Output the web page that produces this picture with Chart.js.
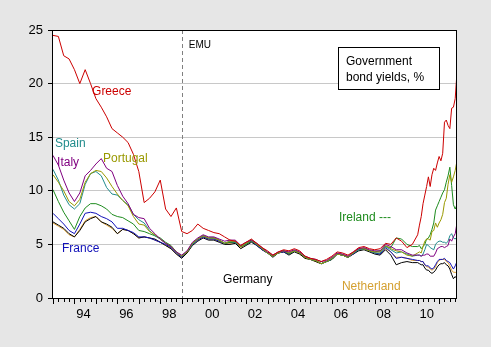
<!DOCTYPE html>
<html>
<head>
<meta charset="utf-8">
<script src="https://cdn.jsdelivr.net/npm/chart.js@4/dist/chart.umd.min.js"></script>
<style>
  html, body { margin: 0; padding: 0; background: #e6e6e6; }
  #wrap { width: 491px; height: 347px; }
</style>
</head>
<body>
<div id="wrap"><canvas id="yieldsChart"></canvas></div>
<script>
// Observation dates: quarterly 1993-2009, monthly 2010 to Nov 2011
const dates = [];
for (let y = 1993; y <= 2009; y++) {
  for (let q = 0; q < 4; q++) dates.push(y + q / 4);
}
for (let y = 2010; y <= 2011; y++) {
  for (let m = 0; m < 12; m++) {
    if (y === 2011 && m > 10) break;
    dates.push(y + m / 12);
  }
}

// 10-year government bond yields, percent
const greece = [
  24.5, 24.4, 22.6, 22.3,  21.3, 20.0, 21.3, 20.0,  18.6, 17.8, 16.9, 15.8,  15.4, 15.0, 14.5, 13.4,
  11.8, 8.9, 9.3, 9.9,  11.0, 8.3, 7.6, 8.4,  6.2, 6.0, 6.3, 6.9,  6.5, 6.3, 6.1, 6.0,
  5.7, 5.4, 5.3, 4.9,  5.2, 5.5, 5.1, 4.7,  4.4, 4.0, 4.3, 4.5,  4.4, 4.6, 4.4, 3.9,
  3.7, 3.6, 3.4, 3.6,  3.9, 4.3, 4.2, 4.0,  4.3, 4.7, 4.8, 4.6,  4.5, 4.6, 5.1, 5.0,
  5.6, 5.3, 4.7, 5.0,
  5.9, 6.8, 7.6, 8.8, 9.6, 10.4, 11.3, 10.4, 11.5, 12.1, 11.9, 12.6,
  13.2, 12.8, 13.5, 16.4, 16.6, 16.1, 15.8, 17.7, 17.8, 18.6, 21.1
];
const italy = [
  13.3, 12.4, 11.0, 9.8,  9.0, 9.8, 11.4, 11.9,  12.5, 13.0, 12.1, 11.8,  10.5, 9.5, 8.8, 7.8,
  7.5, 7.4, 6.5, 6.0,  5.5, 5.1, 4.8, 4.3,  4.0, 4.4, 5.2, 5.6,  5.9, 5.7, 5.7, 5.5,
  5.3, 5.4, 5.4, 4.9,  5.2, 5.4, 5.1, 4.7,  4.3, 4.0, 4.3, 4.4,  4.3, 4.5, 4.3, 3.9,
  3.7, 3.6, 3.4, 3.5,  3.8, 4.2, 4.1, 3.9,  4.3, 4.6, 4.7, 4.5,  4.4, 4.4, 5.0, 4.8,
  4.5, 4.5, 4.2, 4.0,
  4.0, 4.0, 3.9, 4.0, 4.0, 4.1, 4.1, 3.9, 3.9, 3.9, 4.2, 4.6,
  4.7, 4.8, 4.8, 4.7, 4.8, 4.9, 5.5, 5.3, 5.7, 6.0, 7.0
];
const portugal = [
  11.5, 10.8, 10.0, 9.0,  8.6, 9.2, 10.8, 11.6,  11.9, 11.8, 11.2, 10.4,  9.7, 9.1, 8.6, 7.6,
  6.9, 6.8, 6.2, 5.9,  5.5, 5.1, 4.8, 4.3,  3.9, 4.3, 5.1, 5.5,  5.8, 5.6, 5.6, 5.4,
  5.1, 5.3, 5.3, 4.8,  5.1, 5.4, 5.0, 4.6,  4.2, 3.9, 4.2, 4.4,  4.2, 4.4, 4.2, 3.8,
  3.6, 3.5, 3.2, 3.4,  3.7, 4.1, 4.0, 3.8,  4.2, 4.6, 4.6, 4.4,  4.3, 4.3, 4.9, 4.6,
  4.4, 4.3, 4.0, 3.9,
  4.2, 4.3, 4.2, 4.8, 5.3, 5.5, 5.5, 5.4, 6.2, 6.3, 7.0, 6.6,
  7.0, 7.3, 7.8, 8.9, 9.3, 10.6, 11.5, 10.8, 11.3, 11.9, 12.8
];
const spain = [
  12.0, 11.0, 9.6, 8.7,  8.3, 8.8, 10.6, 11.6,  11.8, 11.4, 10.3, 9.7,  9.6, 9.1, 8.7, 7.8,
  7.3, 7.0, 6.3, 5.8,  5.5, 5.1, 4.8, 4.3,  3.9, 4.3, 5.0, 5.5,  5.8, 5.6, 5.6, 5.4,
  5.1, 5.3, 5.2, 4.8,  5.1, 5.4, 5.0, 4.6,  4.2, 3.9, 4.2, 4.4,  4.2, 4.4, 4.2, 3.8,
  3.6, 3.5, 3.2, 3.4,  3.7, 4.1, 4.0, 3.8,  4.2, 4.5, 4.6, 4.4,  4.2, 4.2, 4.8, 4.5,
  4.2, 4.3, 4.1, 3.9,
  4.0, 4.0, 3.9, 4.1, 4.5, 5.0, 4.9, 4.7, 4.6, 4.5, 5.0, 5.2,
  5.3, 5.3, 5.2, 5.2, 5.1, 5.3, 5.8, 6.0, 5.6, 5.5, 5.7
];
const ireland = [
  10.1, 9.0, 8.0, 7.2,  6.4, 7.6, 8.4, 8.8,  8.8, 8.6, 8.3, 7.8,  7.6, 7.5, 7.2, 6.9,
  6.3, 6.2, 6.0, 5.8,  5.6, 5.2, 4.9, 4.3,  3.9, 4.3, 5.1, 5.5,  5.8, 5.6, 5.6, 5.4,
  5.1, 5.2, 5.2, 4.8,  5.0, 5.3, 5.0, 4.6,  4.2, 3.9, 4.2, 4.4,  4.1, 4.4, 4.2, 3.8,
  3.6, 3.5, 3.2, 3.4,  3.6, 4.1, 4.0, 3.8,  4.2, 4.5, 4.6, 4.4,  4.3, 4.4, 4.8, 4.7,
  5.6, 5.5, 5.0, 4.8,
  4.8, 4.9, 4.6, 4.8, 5.0, 5.5, 5.6, 5.9, 6.4, 7.0, 8.2, 8.6,
  9.0, 9.4, 9.8, 10.1, 10.8, 11.4, 12.2, 10.5, 8.7, 8.3, 8.7
];
const france = [
  7.9, 7.4, 6.9, 6.3,  6.0, 6.9, 7.9, 8.0,  7.9, 7.6, 7.4, 7.1,  6.5, 6.5, 6.3, 6.1,
  5.7, 5.7, 5.6, 5.4,  5.2, 5.0, 4.7, 4.2,  3.8, 4.3, 5.0, 5.4,  5.7, 5.5, 5.5, 5.3,
  5.1, 5.2, 5.2, 4.8,  5.0, 5.3, 4.9, 4.5,  4.2, 3.9, 4.2, 4.3,  4.1, 4.4, 4.2, 3.8,
  3.6, 3.5, 3.2, 3.4,  3.6, 4.1, 4.0, 3.8,  4.1, 4.5, 4.6, 4.4,  4.2, 4.1, 4.7, 4.3,
  3.7, 3.8, 3.7, 3.6,
  3.5, 3.5, 3.4, 3.4, 3.1, 3.0, 3.0, 2.8, 2.7, 2.8, 3.1, 3.4,
  3.6, 3.6, 3.6, 3.7, 3.5, 3.4, 3.3, 3.0, 2.7, 3.0, 3.4
];
const germany = [
  7.1, 6.8, 6.5, 6.0,  5.7, 6.3, 7.1, 7.4,  7.6, 7.1, 6.9, 6.6,  6.0, 6.4, 6.3, 6.0,
  5.6, 5.7, 5.6, 5.5,  5.2, 4.9, 4.6, 4.1,  3.7, 4.2, 4.9, 5.3,  5.6, 5.4, 5.4, 5.2,
  5.0, 5.0, 5.1, 4.6,  4.9, 5.2, 4.9, 4.5,  4.2, 3.8, 4.2, 4.3,  4.0, 4.3, 4.1, 3.7,
  3.6, 3.4, 3.2, 3.4,  3.6, 4.1, 4.0, 3.8,  4.1, 4.4, 4.5, 4.3,  4.1, 4.0, 4.5, 4.0,
  3.1, 3.3, 3.4, 3.3,
  3.3, 3.2, 3.1, 3.1, 2.8, 2.6, 2.6, 2.4, 2.3, 2.4, 2.6, 2.9,
  3.1, 3.2, 3.2, 3.3, 3.1, 3.0, 2.7, 2.2, 1.8, 2.0, 1.8
];
const netherland = [
  7.0, 6.7, 6.4, 5.9,  5.7, 6.4, 7.2, 7.5,  7.6, 7.1, 6.8, 6.5,  6.0, 6.4, 6.3, 6.0,
  5.6, 5.7, 5.6, 5.4,  5.2, 4.9, 4.6, 4.1,  3.8, 4.2, 5.0, 5.4,  5.7, 5.5, 5.5, 5.3,
  5.1, 5.1, 5.2, 4.7,  5.0, 5.3, 4.9, 4.5,  4.2, 3.9, 4.2, 4.3,  4.1, 4.4, 4.1, 3.7,
  3.6, 3.4, 3.2, 3.4,  3.6, 4.1, 4.0, 3.8,  4.1, 4.5, 4.6, 4.4,  4.2, 4.1, 4.6, 4.3,
  3.8, 3.8, 3.7, 3.5,
  3.5, 3.5, 3.4, 3.4, 3.1, 2.9, 2.9, 2.7, 2.6, 2.7, 2.9, 3.3,
  3.5, 3.6, 3.6, 3.6, 3.4, 3.3, 3.0, 2.6, 2.4, 2.4, 2.3
];

// x-axis labels sit near the middle of each even year
const tickYears = [1994, 1996, 1998, 2000, 2002, 2004, 2006, 2008, 2010];
const tickLabels = ['94', '96', '98', '00', '02', '04', '06', '08', '10'];
const emuDate = 1999.0;

const FONT = 'Arial, "Liberation Sans", sans-serif';

// series: [name, values, colour]; first entry is drawn on top
const series = [
  ['Greece', greece, '#cc0000'],
  ['Italy', italy, '#800080'],
  ['Portugal', portugal, '#999900'],
  ['Spain', spain, '#218c8c'],
  ['Ireland', ireland, '#1e8c1e'],
  ['France', france, '#1010b8'],
  ['Germany', germany, '#000000'],
  ['Netherland', netherland, '#e0a030']
];

// in-plot labels, placed in data coordinates (year, percent)
const labels = [
  { text: 'Greece', x: 1994.82, y: 19.2, color: '#cc0000' },
  { text: 'Spain', x: 1993.09, y: 14.35, color: '#218c8c' },
  { text: 'Italy', x: 1993.19, y: 12.6, color: '#800080' },
  { text: 'Portugal', x: 1995.33, y: 12.95, color: '#999900' },
  { text: 'France', x: 1993.42, y: 4.57, color: '#1010b8' },
  { text: 'Germany', x: 2000.93, y: 1.68, color: '#000000' },
  { text: 'Ireland ---', x: 2006.33, y: 7.46, color: '#1e8c1e' },
  { text: 'Netherland', x: 2006.47, y: 1.03, color: '#d4a030' }
];

const toPoints = vals => vals.map((v, i) => ({ x: dates[i], y: v }));

const decorations = {
  id: 'decorations',
  beforeDraw(chart) {
    const { ctx, chartArea: a } = chart;
    ctx.save();
    ctx.fillStyle = '#ffffff';
    ctx.fillRect(a.left, a.top, a.right - a.left, a.bottom - a.top);
    ctx.restore();
  },
  beforeDatasetsDraw(chart) {
    const { ctx, chartArea: a } = chart;
    const x = Math.round(chart.scales.x.getPixelForValue(emuDate)) + 0.5;
    ctx.save();
    ctx.strokeStyle = '#808080';
    ctx.lineWidth = 1;
    ctx.setLineDash([4, 3]);
    ctx.beginPath();
    ctx.moveTo(x, a.top);
    ctx.lineTo(x, a.bottom);
    ctx.stroke();
    ctx.restore();
  },
  afterDatasetsDraw(chart) {
    const { ctx } = chart;
    const xs = chart.scales.x, ys = chart.scales.y;
    ctx.save();
    ctx.font = '12px ' + FONT;
    ctx.textBaseline = 'middle';
    ctx.textAlign = 'left';
    labels.forEach(l => {
      ctx.fillStyle = l.color;
      ctx.fillText(l.text, xs.getPixelForValue(l.x), ys.getPixelForValue(l.y));
    });
    ctx.font = '10px ' + FONT;
    ctx.fillStyle = '#000';
    ctx.fillText('EMU', xs.getPixelForValue(emuDate) + 7, ys.getPixelForValue(23.6));
    ctx.restore();
  },
  afterDraw(chart) {
    const { ctx, chartArea: a } = chart;
    const xs = chart.scales.x;
    ctx.save();
    ctx.strokeStyle = '#000';
    ctx.lineWidth = 1;
    ctx.strokeRect(Math.round(a.left) - 0.5, Math.round(a.top) + 0.5,
      Math.round(a.right - a.left), Math.round(a.bottom - a.top));

    // quarterly tick marks, longer at each year
    ctx.beginPath();
    for (let q = 1993 * 4; q <= 2011 * 4 + 3; q++) {
      const t = q / 4;
      if (t > xs.max) break;
      const px = Math.round(xs.getPixelForValue(t)) + 0.5;
      const len = q % 4 === 0 ? 6 : 4;
      ctx.moveTo(px, a.bottom);
      ctx.lineTo(px, a.bottom + len);
    }
    ctx.stroke();

    // caption box
    ctx.fillStyle = '#fff';
    ctx.fillRect(338.5, 47.5, 101, 42);
    ctx.strokeRect(338.5, 47.5, 101, 42);
    ctx.fillStyle = '#000';
    ctx.font = '12px ' + FONT;
    ctx.textBaseline = 'middle';
    ctx.textAlign = 'left';
    ctx.fillText('Government', 346, 62);
    ctx.fillText('bond yields, %', 346, 78);
    ctx.restore();
  }
};

new Chart(document.getElementById('yieldsChart'), {
  type: 'line',
  data: {
    datasets: series.map(([name, vals, color]) => ({
      label: name,
      data: toPoints(vals),
      borderColor: color,
      borderWidth: 1,
      pointRadius: 0,
      tension: 0,
      fill: false
    }))
  },
  options: {
    responsive: true,
    maintainAspectRatio: false,
    animation: false,
    events: [],
    layout: { padding: { top: 30, right: 34, left: 0, bottom: 0 } },
    plugins: { legend: { display: false }, tooltip: { enabled: false } },
    scales: {
      x: {
        type: 'linear',
        min: 1993,
        max: 2011 + 10 / 12,
        afterFit: s => { s.height = 49; },
        afterBuildTicks: s => { s.ticks = tickYears.map(y => ({ value: y + 0.42 })); },
        grid: { display: false, drawTicks: false },
        border: { display: false },
        ticks: {
          autoSkip: false,
          maxRotation: 0,
          padding: 9,
          color: '#000',
          font: { family: FONT, size: 13 },
          callback: v => tickLabels[tickYears.indexOf(Math.round(v - 0.42))]
        }
      },
      y: {
        min: 0,
        max: 25,
        afterFit: s => { s.width = 53; },
        grid: {
          color: c => (c.tick.value === 0 || c.tick.value === 25) ? 'rgba(0,0,0,0)' : '#c8c8c8',
          tickColor: '#000',
          tickLength: 5
        },
        border: { display: false },
        ticks: {
          stepSize: 5,
          padding: 5,
          color: '#000',
          font: { family: FONT, size: 13 }
        }
      }
    }
  },
  plugins: [decorations]
});
</script>
</body>
</html>
